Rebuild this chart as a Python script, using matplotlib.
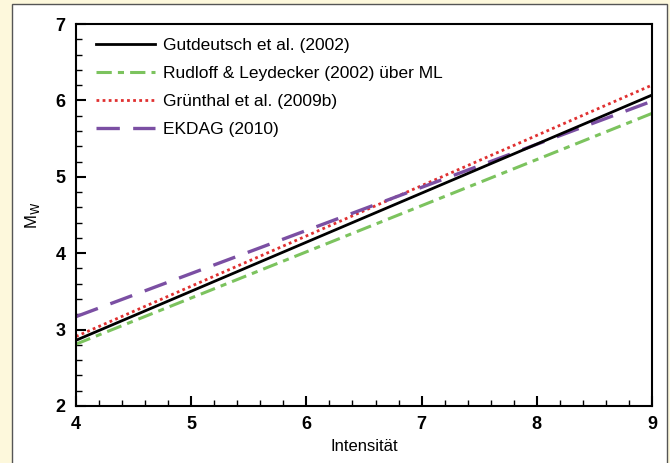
import matplotlib
matplotlib.use("Agg")
import matplotlib.pyplot as plt
from matplotlib.patches import Rectangle
from matplotlib.ticker import MultipleLocator

plt.rcParams['font.family'] = ['Liberation Sans', 'DejaVu Sans']

# intensity range and magnitude at both ends
intens = [4, 9]
gutdeutsch = [2.86, 6.07]
rudloff = [2.81, 5.83]
gruenthal = [2.91, 6.20]
ekdag = [3.17, 5.99]

names = ["Gutdeutsch et al. (2002)",
         "Rudloff & Leydecker (2002) über ML",
         "Grünthal et al. (2009b)",
         "EKDAG (2010)"]

fig = plt.figure(figsize=(6.7, 4.63), dpi=100)
fig.patch.set_facecolor('#fdf8dc')
# white panel behind the chart
fig.patches.append(Rectangle((12/670, -0.01), 655/670, 1 - 4/463 + 0.01,
                             transform=fig.transFigure, facecolor='white',
                             edgecolor='#555555', linewidth=1.0, zorder=-10))

ax = fig.add_axes([76/670, 1 - 406/463, 576/670, 382/463])
ax.set_facecolor('white')

ax.plot(intens, gutdeutsch, color='black', lw=2.0, label=names[0], zorder=3)
ax.plot(intens, rudloff, color='#7cc35e', lw=2.2, ls=(0, (5, 2, 2, 2)), label=names[1])
ax.plot(intens, gruenthal, color='#e03030', lw=2.0, ls=(0, (1, 1.2)), label=names[2])
ax.plot(intens, ekdag, color='#7b4fa3', lw=2.4, ls=(0, (7, 4)), label=names[3])

ax.set_xlim(4, 9)
ax.set_ylim(2, 7)
ax.xaxis.set_major_locator(MultipleLocator(1))
ax.xaxis.set_minor_locator(MultipleLocator(0.2))
ax.yaxis.set_major_locator(MultipleLocator(1))
ax.yaxis.set_minor_locator(MultipleLocator(0.2))
ax.tick_params(which='both', direction='in', top=False, right=False, labelsize=13)
ax.tick_params(which='major', length=7, width=1.5, pad=7.5)
ax.tick_params(which='minor', length=4, width=1.0)
for lab in ax.get_xticklabels() + ax.get_yticklabels():
    lab.set_fontweight('bold')
for s in ax.spines.values():
    s.set_linewidth(1.5)

ax.set_xlabel("Intensität", fontsize=12, labelpad=4)
ax.set_ylabel(r"M$_\mathrm{W}$", fontsize=12)
ax.yaxis.set_label_coords(-0.059, 0.5)

ax.legend(loc='upper left', bbox_to_anchor=(0.0226, 0.982), borderaxespad=0,
          frameon=False, fontsize=12.5, handlelength=3.4,
          labelspacing=0.75, handletextpad=0.45)

fig.savefig("out.png", dpi=100, facecolor=fig.get_facecolor())
